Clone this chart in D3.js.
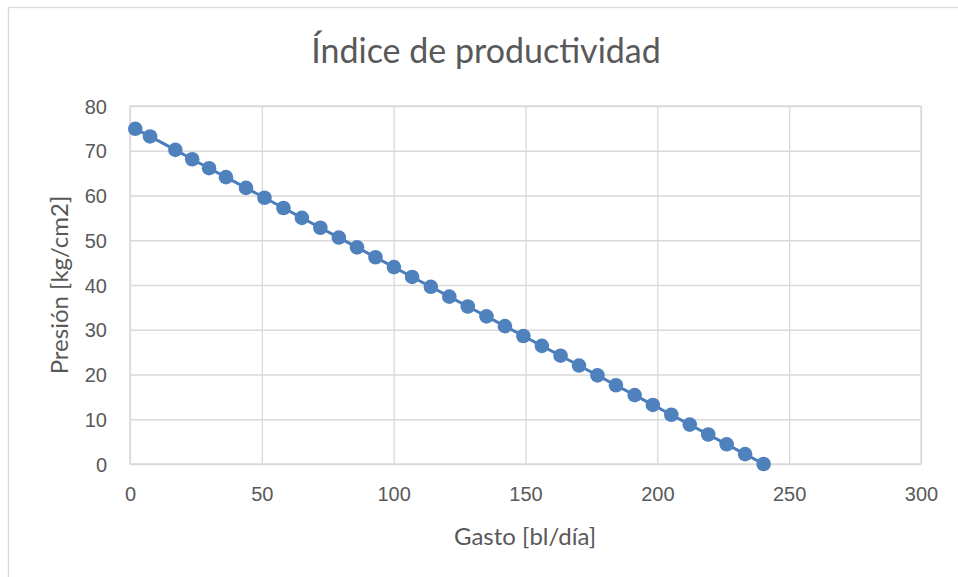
<!DOCTYPE html>
<html>
<head>
<meta charset="utf-8">
<script src="https://cdn.jsdelivr.net/npm/d3@7"></script>
<style>
  body { margin: 0; background: #fff; }
  svg { display: block; font-family: Lato, "Open Sans", sans-serif; }
  .tick text { fill: #595959; font-size: 20px; }
  .grid line { stroke: #d9d9d9; stroke-width: 1.3; }
  .grid path { display: none; }
</style>
</head>
<body>
<div id="chart"></div>
<script>
// Gasto [bl/dia] vs Presion [kg/cm2]
var gasto = [2, 7.6, 17.2, 23.6, 30, 36.4, 44, 51, 58.2, 65.2, 72.2, 79.2, 86.1, 93.1, 100.1,
    107, 114.1, 121.1, 128.1, 135.2, 142.2, 149.2, 156.2, 163.3, 170.3, 177.3, 184.3, 191.4,
    198.3, 205.3, 212.3, 219.3, 226.3, 233.3, 240.3];
var presion = [74.9, 73.2, 70.2, 68.1, 66.1, 64.1, 61.7, 59.5, 57.2, 55.0, 52.8, 50.6, 48.4, 46.2, 44.0,
    41.8, 39.6, 37.4, 35.2, 33.0, 30.8, 28.6, 26.4, 24.2, 22.0, 19.8, 17.6, 15.4,
    13.2, 11.0, 8.8, 6.6, 4.4, 2.2, 0];
var xTicks = [0, 50, 100, 150, 200, 250, 300];
var yTicks = [0, 10, 20, 30, 40, 50, 60, 70, 80];

var W = 958, H = 577;
var margin = { top: 106, right: 37, bottom: 113, left: 130 };
var width = W - margin.left - margin.right;
var height = H - margin.top - margin.bottom;

var data = gasto.map(function (g, i) { return { x: g, y: presion[i] }; });

var svg = d3.select('#chart')
    .append('svg')
    .attr('width', W)
    .attr('height', H);

// chart frame
svg.append('rect')
    .attr('x', 8.5).attr('y', 7.5)
    .attr('width', W).attr('height', H)
    .attr('fill', '#fff')
    .attr('stroke', '#d9d9d9')
    .attr('stroke-width', 1.3);

var g = svg.append('g')
    .attr('transform', `translate(${margin.left}, ${margin.top})`);

var xScale = d3.scaleLinear().domain([0, 300]).range([0, width]);
var yScale = d3.scaleLinear().domain([0, 80]).range([height, 0]);

// gridlines
g.append('g')
    .attr('class', 'grid')
    .call(d3.axisLeft(yScale).tickValues(yTicks).tickSize(-width).tickFormat(''));
g.append('g')
    .attr('class', 'grid')
    .call(d3.axisBottom(xScale).tickValues(xTicks).tickSize(height).tickFormat(''));

// plot area border
g.append('rect')
    .attr('width', width).attr('height', height)
    .attr('fill', 'none')
    .attr('stroke', '#d9d9d9')
    .attr('stroke-width', 1.3);

// axes (labels only)
var xAxis = g.append('g')
    .attr('transform', `translate(0, ${height})`)
    .call(d3.axisBottom(xScale).tickValues(xTicks).tickSize(0).tickPadding(23));
xAxis.select('.domain').remove();

var yAxis = g.append('g')
    .call(d3.axisLeft(yScale).tickValues(yTicks).tickSize(0).tickPadding(23));
yAxis.select('.domain').remove();
yAxis.selectAll('text').attr('dy', '0.35em');

// line + markers
var line = d3.line().x(d => xScale(d.x)).y(d => yScale(d.y));

g.append('path')
    .datum(data)
    .attr('d', line)
    .attr('fill', 'none')
    .attr('stroke', '#4a7ebb')
    .attr('stroke-width', 3);

g.selectAll('.dot').data(data)
    .enter()
    .append('circle')
    .attr('class', 'dot')
    .attr('cx', d => xScale(d.x))
    .attr('cy', d => yScale(d.y))
    .attr('r', 7.3)
    .attr('fill', '#4f81bd');

// titles
svg.append('text')
    .attr('x', 486).attr('y', 63)
    .attr('text-anchor', 'middle')
    .attr('fill', '#595959')
    .style('font-size', '34px')
    .text('Índice de productividad');

svg.append('text')
    .attr('x', 525).attr('y', 545)
    .attr('text-anchor', 'middle')
    .attr('fill', '#595959')
    .style('font-size', '24px')
    .text('Gasto [bl/día]');

svg.append('text')
    .attr('transform', `translate(68, 285) rotate(-90)`)
    .attr('text-anchor', 'middle')
    .attr('fill', '#595959')
    .style('font-size', '24px')
    .text('Presión [kg/cm2]');
</script>
</body>
</html>
